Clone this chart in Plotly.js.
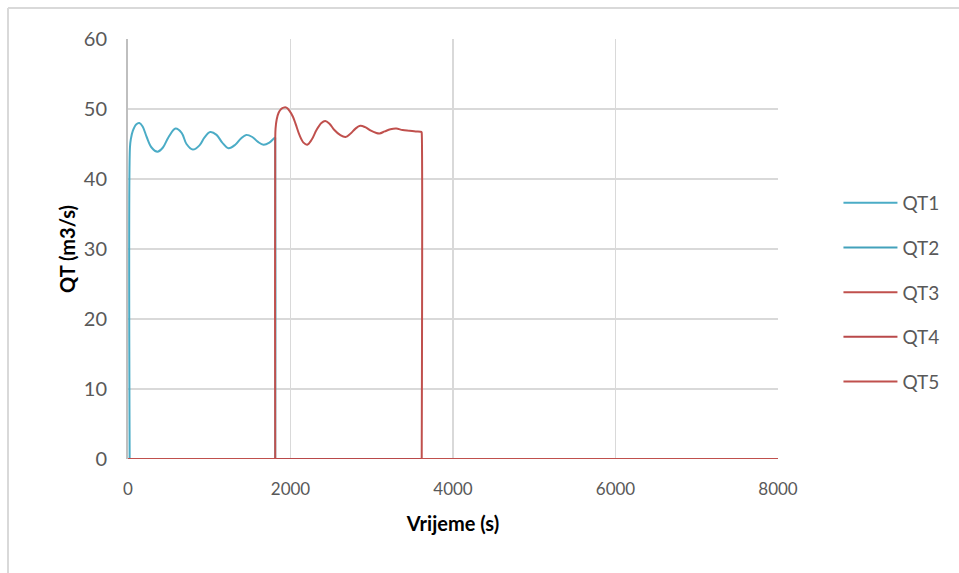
<!DOCTYPE html>
<html>
<head>
<meta charset="utf-8">
<script src="https://cdn.plot.ly/plotly-3.0.1.min.js"></script>
<style>html,body{margin:0;padding:0;background:#fff;}#chart{width:959px;height:573px;}</style>
</head>
<body>
<div id="chart"></div>
<script>
// QT1 (blue) – first unit, 0..~1812 s
const qt1Time = [0, 18, 20, 20, 24, 35, 60, 100, 140, 180, 230, 290, 363, 430, 500, 585, 660, 720, 798, 880, 940, 1012, 1090, 1160, 1237, 1320, 1390, 1455, 1530, 1600, 1668, 1740, 1810, 1812, 1812, 1812, 1814, 8000];
const qt1Value = [0, 0, 0, 0.3, 44.5, 45.7, 46.9, 47.8, 48.0, 47.5, 46.0, 44.5, 43.9, 44.5, 46.0, 47.2, 46.6, 45.0, 44.2, 44.8, 45.9, 46.7, 46.3, 45.2, 44.4, 44.9, 45.8, 46.3, 46.0, 45.3, 44.9, 45.2, 45.9, 45.6, 0.3, 0, 0, 0];

// QT2, QT3, QT4 – stay at zero
const zeroTime = [0, 8000];
const qt2Value = [0, 0];
const qt3Value = [0, 0];
const qt4Value = [0, 0];

// QT5 (red) – second unit, ~1812..~3615 s
const qt5Time = [0, 1800, 1811, 1812, 1812, 1812, 1816, 1830, 1855, 1885, 1915, 1950, 1990, 2030, 2065, 2110, 2160, 2206, 2260, 2320, 2380, 2427, 2480, 2540, 2610, 2677, 2740, 2800, 2858, 2920, 2990, 3050, 3095, 3160, 3230, 3301, 3380, 3465, 3540, 3600, 3613, 3615, 3615, 3615, 3617, 3630, 8000];
const qt5Value = [0, 0, 0, 0, 0.3, 45.5, 47.2, 48.5, 49.5, 50.0, 50.2, 50.2, 49.7, 48.9, 47.8, 46.3, 45.2, 44.9, 45.6, 47.0, 48.0, 48.3, 47.9, 47.0, 46.3, 46.0, 46.5, 47.2, 47.6, 47.4, 46.9, 46.6, 46.5, 46.8, 47.1, 47.2, 47.0, 46.9, 46.8, 46.75, 46.7, 46.6, 0.3, 0, 0, 0, 0];

const seriesNames = ['QT1', 'QT2', 'QT3', 'QT4', 'QT5'];
const xTicks = [0, 2000, 4000, 6000, 8000];
const yTicks = [0, 10, 20, 30, 40, 50, 60];

const blue1 = '#4bacc6', blue2 = '#43a1bb', red1 = '#c0504d', red2 = '#b9494a', red3 = '#c0504d';

function tr(x, y, name, color, i) {
  return {x: x, y: y, name: name, type: 'scatter', mode: 'lines',
          line: {color: color, width: 2, shape: 'spline', smoothing: 1},
          legendgroup: 'g' + i, hoverinfo: 'skip'};
}

const data = [
  tr(qt1Time, qt1Value, seriesNames[0], blue1, 1),
  tr(zeroTime, qt2Value, seriesNames[1], blue2, 2),
  tr(zeroTime, qt3Value, seriesNames[2], red1, 3),
  tr(zeroTime, qt4Value, seriesNames[3], red2, 4),
  tr(qt5Time, qt5Value, seriesNames[4], red3, 5)
];

const FONT = 'Lato, "Open Sans", sans-serif';

const layout = {
  width: 959, height: 573,
  margin: {l: 128, r: 181, t: 39, b: 114},
  paper_bgcolor: '#ffffff', plot_bgcolor: '#ffffff',
  font: {family: FONT, color: '#595959'},
  showlegend: true,
  legend: {
    x: 1.093, xanchor: 'left', y: 0.655, yanchor: 'top',
    font: {family: FONT, size: 19, color: '#595959'},
    itemwidth: 54,
    tracegroupgap: 17, bgcolor: 'rgba(0,0,0,0)'
  },
  xaxis: {
    range: [0, 8000], tickvals: xTicks, ticktext: xTicks.map(String),
    showgrid: true, gridcolor: '#d9d9d9', gridwidth: 1.5,
    zeroline: false, showline: false, ticks: '',
    ticklabelstandoff: 18,
    tickfont: {family: FONT, size: 17, color: '#595959'},
    title: {text: '<b>Vrijeme (s)</b>', font: {family: FONT, size: 20, color: '#000000'}, standoff: 18}
  },
  yaxis: {
    range: [0, 60], tickvals: yTicks, ticktext: yTicks.map(String),
    showgrid: true, gridcolor: '#d9d9d9', gridwidth: 1.5,
    zeroline: false, showline: true, linecolor: '#bfbfbf', linewidth: 2, ticks: '',
    ticklabelstandoff: 15,
    tickfont: {family: FONT, size: 20, color: '#595959'},
    title: {text: '<b>QT (m3/s)</b>', font: {family: FONT, size: 20, color: '#000000'}, standoff: 3}
  },
  shapes: [
    {type: 'line', xref: 'paper', yref: 'paper', x0: -0.1846, x1: -0.1846, y0: -0.35, y1: 1.0738,
     line: {color: '#d9d9d9', width: 2}},
    {type: 'line', xref: 'paper', yref: 'paper', x0: -0.1846, x1: 1.4, y0: 1.0738, y1: 1.0738,
     line: {color: '#d9d9d9', width: 2}}
  ]
};

Plotly.newPlot('chart', data, layout, {staticPlot: true, displayModeBar: false});
</script>
</body>
</html>
